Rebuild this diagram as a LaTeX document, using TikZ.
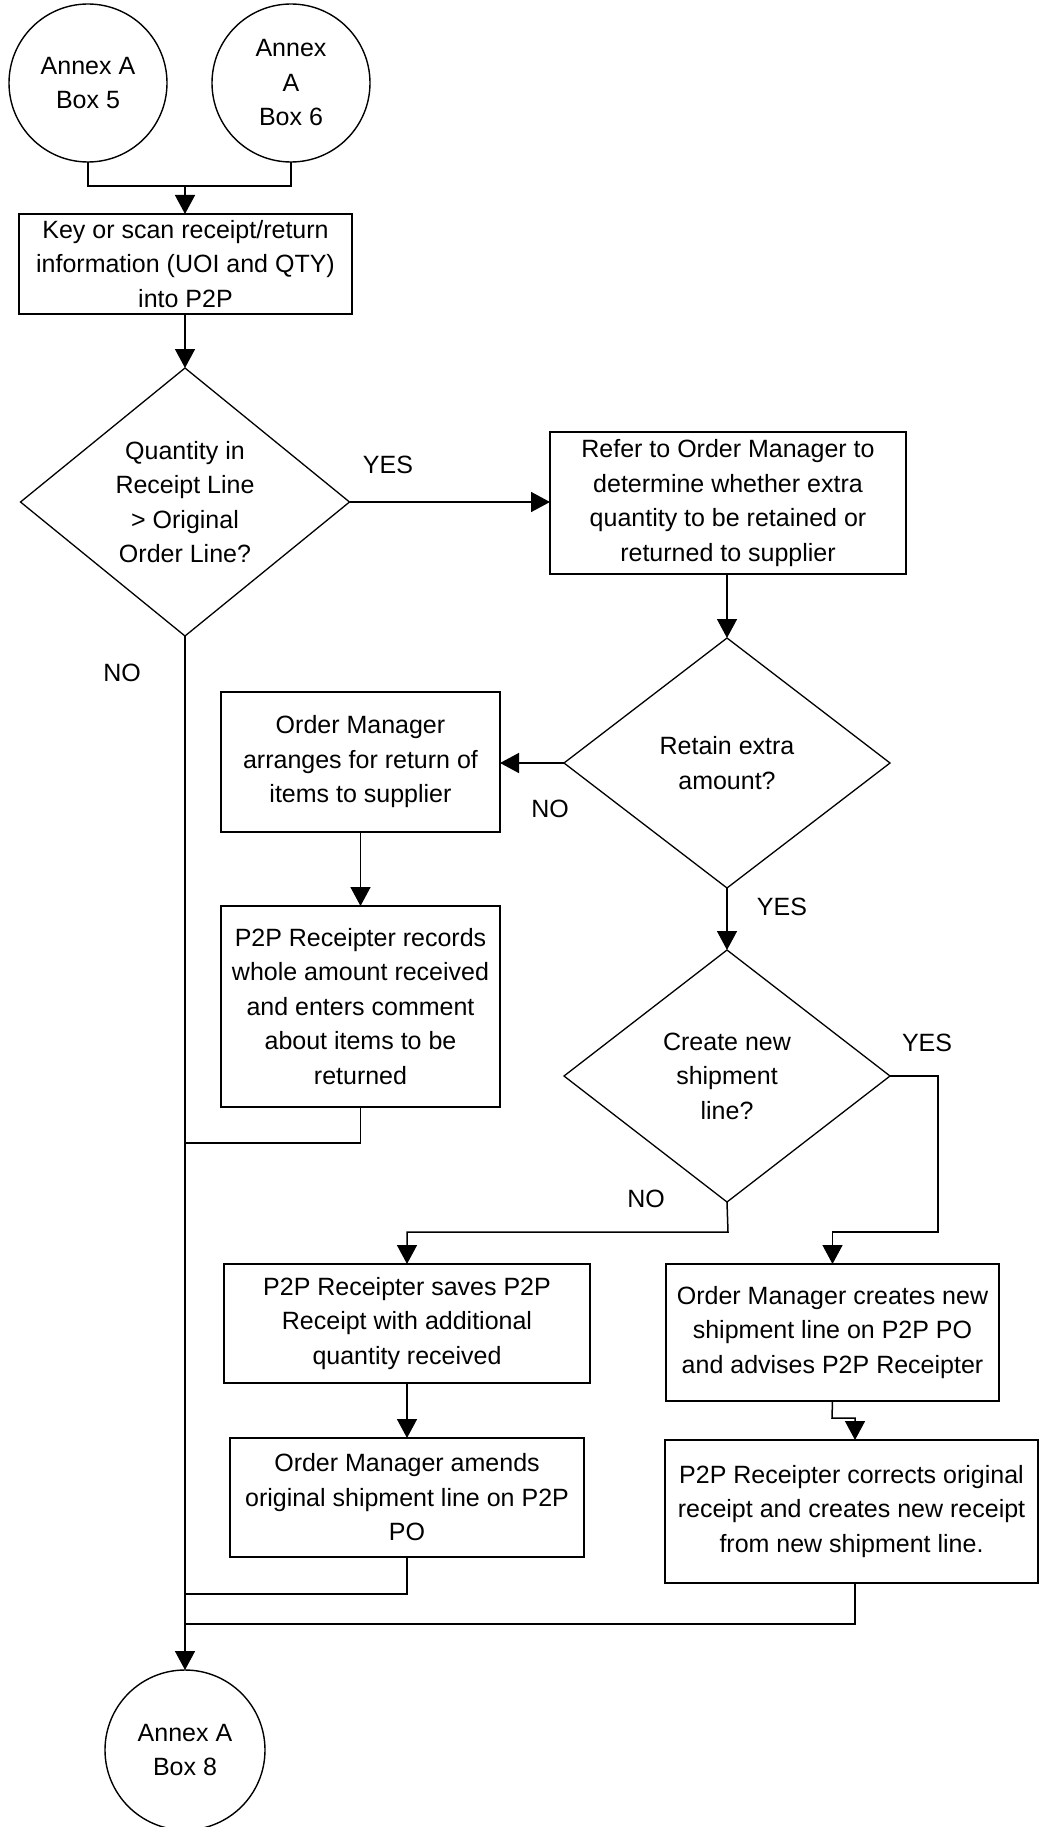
\documentclass[tikz,border=0pt]{standalone}
\usepackage{fontspec}
\setmainfont{Liberation Sans}
\usetikzlibrary{shapes.geometric,arrows.meta}
\begin{document}
\begin{tikzpicture}[x=1pt,y=-1pt,
  every node/.style={font=\fontsize{25}{34.5}\selectfont, inner sep=0pt, outer sep=0pt},
  procbox/.style={draw, line width=1.6pt, rectangle, align=center},
  termcirc/.style={draw, line width=1.4pt, circle, minimum size=158pt, align=center},
  decision/.style={draw, line width=1.3pt, diamond, minimum width=326pt, minimum height=252pt},
  dtext/.style={align=center},
  lbl/.style={align=center},
  conn/.style={line width=1.5pt},
  arr/.style={conn, -{Triangle[length=19pt,width=20pt]}}
]
\useasboundingbox (0,0) rectangle (1039,1827);
\clip (0,0) rectangle (1039,1827);

% terminals
\node[termcirc] (c1) at (88,83) {Annex A\\Box 5};
\node[termcirc] (c2) at (291,83) {Annex\\A\\Box 6};
\node[termcirc, minimum size=160pt] (c3) at (185,1750) {Annex A\\Box 8};

% process boxes
\node[procbox, minimum width=333pt, minimum height=100pt] (b1) at (185.5,264)
  {Key or scan receipt/return\\information (UOI and QTY)\\into P2P};
\node[procbox, minimum width=356pt, minimum height=142pt] (b2) at (728,503)
  {Refer to Order Manager to\\determine whether extra\\quantity to be retained or\\returned to supplier};
\node[procbox, minimum width=279pt, minimum height=140pt] (b3) at (360.5,762)
  {Order Manager\\arranges for return of\\items to supplier};
\node[procbox, minimum width=279pt, minimum height=201pt] (b4) at (360.5,1006.5)
  {P2P Receipter records\\whole amount received\\and enters comment\\about items to be\\returned};
\node[procbox, minimum width=366pt, minimum height=119pt] (b5) at (407,1323.5)
  {P2P Receipter saves P2P\\Receipt with additional\\quantity received};
\node[procbox, minimum width=333pt, minimum height=137pt] (b6) at (832.5,1332.5)
  {Order Manager creates new\\shipment line on P2P PO\\and advises P2P Receipter};
\node[procbox, minimum width=354pt, minimum height=119pt] (b7) at (407,1497.5)
  {Order Manager amends\\original shipment line on P2P\\PO};
\node[procbox, minimum width=373pt, minimum height=143pt] (b8) at (851.5,1511.5)
  {P2P Receipter corrects original\\receipt and creates new receipt\\from new shipment line.};

% decisions
\node[decision, minimum width=329pt, minimum height=268pt] (d1) at (185,502) {};
\node[dtext] (d1t) at (d1.center) {Quantity in\\Receipt Line\\> Original\\Order Line?};
\node[decision, minimum height=250pt] (d2) at (727,763) {};
\node[dtext] (d2t) at (d2.center) {Retain extra\\amount?};
\node[decision] (d3) at (727,1076) {};
\node[dtext] (d3t) at (d3.center) {Create new\\shipment\\line?};

% labels
\node[lbl] (l1) at (388,465) {YES};
\node[lbl] (l2) at (122,673) {NO};
\node[lbl] (l3) at (550,809) {NO};
\node[lbl] (l4) at (782,907) {YES};
\node[lbl] (l5) at (927,1043) {YES};
\node[lbl] (l6) at (646,1199) {NO};

% junction coordinates
\coordinate (j1) at (185,186);
\coordinate (j2) at (938,1232);
\coordinate (j3) at (728,1232);
\coordinate (j4) at (832,1418);
\coordinate (m1) at (185,1143);
\coordinate (m2) at (185,1594);
\coordinate (m3) at (185,1624);

% connectors
\draw[conn] (c1.south) |- (j1);
\draw[conn] (c2.south) |- (j1);
\draw[arr] (j1) -- (b1.north -| j1);
\draw[arr] (b1.south -| d1.north) -- (d1.north);
\draw[arr] (d1.east) -- (b2.west |- d1.east);
\draw[arr] (b2.south -| d2.north) -- (d2.north);
\draw[arr] (d2.west) -- (b3.east |- d2.west);
\draw[arr] (b3.south) -- (b4.north);
\draw[arr] (d2.south) -- (d3.north);
\draw[arr] (d3.east) -| (j2) -| (b6.north);
\draw[arr] (d3.south) -- (j3) -| (b5.north);
\draw[arr] (b5.south) -- (b7.north);
\draw[arr] (b6.south) -- (j4) -| (b8.north -| 855,0);
\draw[conn] (b4.south) |- (m1);
\draw[conn] (b7.south) |- (m2);
\draw[conn] (b8.south -| 855,0) |- (m3);
\draw[arr] (d1.south) -- (c3.north);
\end{tikzpicture}
\end{document}
